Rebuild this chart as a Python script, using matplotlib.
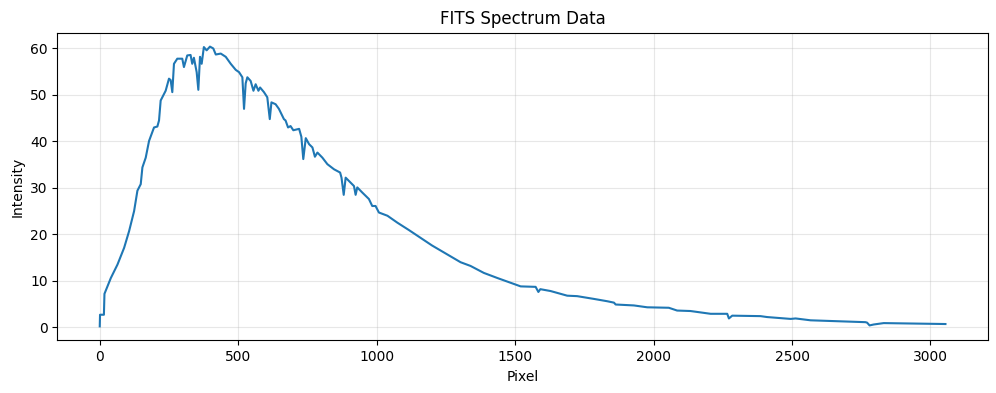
import matplotlib
matplotlib.use("Agg")
import matplotlib.pyplot as plt
import numpy as np

# Spectrum samples (pixel, intensity)
pixel = [0, 1, 15, 17, 40, 64, 88, 106, 124, 136, 148, 154, 166, 178, 196, 208,
         214, 220, 238, 250, 256, 262, 268, 280, 298, 304, 316, 328, 334, 340,
         350, 356, 362, 368, 376, 386, 398, 410, 419, 437, 455, 473, 491, 503,
         515, 521, 527, 533, 545, 555, 563, 573, 579, 593, 605, 614, 620, 635,
         647, 665, 671, 680, 689, 699, 720, 728, 735, 744, 756, 768, 777, 786,
         804, 822, 846, 868, 873, 881, 888, 906, 918, 924, 930, 948, 972, 984,
         996, 1008, 1039, 1075, 1117, 1200, 1303, 1339, 1387, 1436, 1496, 1520,
         1574, 1584, 1591, 1628, 1688, 1724, 1785, 1833, 1857, 1863, 1929, 1977,
         2055, 2085, 2133, 2157, 2206, 2266, 2272, 2284, 2386, 2410, 2495, 2513,
         2567, 2765, 2771, 2780, 2795, 2831, 2939, 3054]
intensity = [0.2, 2.7, 2.7, 7.2, 10.6, 13.5, 17.1, 20.7, 25.0, 29.4, 30.8, 34.4,
             36.5, 40.1, 43.0, 43.2, 44.5, 48.8, 50.9, 53.5, 53.2, 50.6, 56.7,
             57.8, 57.8, 56.0, 58.5, 58.6, 56.7, 58.0, 54.9, 51.1, 58.2, 56.7,
             60.3, 59.6, 60.4, 60.0, 58.7, 58.9, 58.2, 56.7, 55.4, 54.9, 53.8,
             47.0, 52.5, 53.8, 53.0, 50.9, 52.3, 50.9, 51.6, 50.6, 49.5, 44.8,
             48.4, 48.0, 47.0, 44.8, 44.5, 43.0, 43.3, 42.4, 42.7, 41.0, 36.2,
             40.7, 39.4, 38.7, 36.7, 37.6, 36.5, 35.1, 34.0, 33.3, 32.2, 28.5,
             32.2, 31.1, 30.4, 28.5, 30.1, 29.0, 27.6, 26.1, 26.1, 24.7, 24.0,
             22.5, 20.9, 17.6, 14.0, 13.2, 11.7, 10.6, 9.3, 8.8, 8.7, 7.6, 8.2,
             7.8, 6.8, 6.7, 6.1, 5.6, 5.3, 4.9, 4.7, 4.3, 4.2, 3.6, 3.5, 3.3,
             2.9, 2.9, 1.9, 2.5, 2.4, 2.2, 1.8, 1.9, 1.5, 1.1, 1.0, 0.4, 0.6,
             0.9, 0.8, 0.7]

fig, ax = plt.subplots(figsize=(9.96, 3.93), dpi=100)
ax.plot(pixel, intensity, color='#1f77b4', linewidth=1.5)
ax.set_title('FITS Spectrum Data')
ax.set_xlabel('Pixel')
ax.set_ylabel('Intensity')
ax.grid(True, alpha=0.3)
fig.subplots_adjust(left=0.0577, right=0.9917, top=0.917, bottom=0.134)
fig.savefig('out.png', dpi=100)
